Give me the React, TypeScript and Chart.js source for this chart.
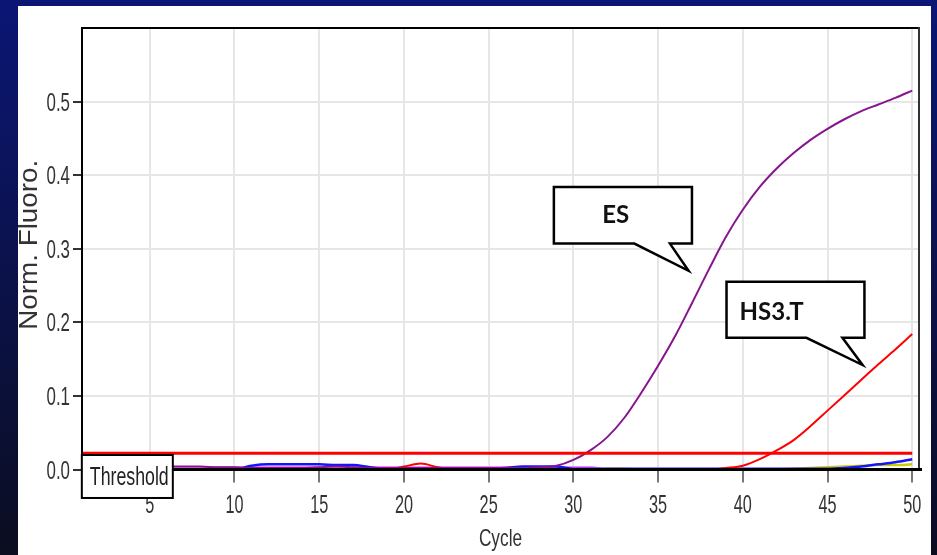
import React, { useEffect, useRef } from "react";
import { Chart, registerables } from "chart.js";
Chart.register(...registerables);

// ---------- data ----------
const cycles = [
  1, 2, 3, 4, 5, 6, 7, 8, 9, 10, 11, 12, 13, 14, 15, 16, 17, 18, 19, 20, 21, 22, 23, 24, 25,
  26, 27, 28, 29, 30, 31, 32, 33, 34, 35, 36, 37, 38, 39, 40, 41, 42, 43, 44, 45, 46, 47, 48, 49, 50,
];
const xTickValues = [5, 10, 15, 20, 25, 30, 35, 40, 45, 50];
const yTickValues = [0.0, 0.1, 0.2, 0.3, 0.4, 0.5];
const thresholdCycles = [1, 50];
const thresholdValue = 0.022;

const esValues = [
  0.003, 0.003, 0.004, 0.004, 0.003, 0.004, 0.004, 0.004, 0.003, 0.003,
  0.002, 0.002, 0.002, 0.002, 0.003, 0.004, 0.003, 0.002, 0.002, 0.002,
  0.002, 0.002, 0.002, 0.002, 0.002, 0.002, 0.002, 0.003, 0.005, 0.013,
  0.026, 0.044, 0.07, 0.104, 0.141, 0.181, 0.226, 0.272, 0.316, 0.353,
  0.384, 0.409, 0.43, 0.448, 0.463, 0.476, 0.487, 0.496, 0.505, 0.515,
];
const hs3tValues = [
  0, 0, 0, 0, 0, 0, 0, 0, 0, 0,
  0, 0, 0, 0, 0, 0, 0, 0, 0, 0.004,
  0.008, 0.003, 0, 0, 0, 0, 0, 0, 0, 0,
  0, 0, 0, 0, 0, 0, 0, 0, 0.002, 0.005,
  0.014, 0.026, 0.04, 0.059, 0.08, 0.101, 0.122, 0.143, 0.163, 0.184,
];
const blueValues = [
  0, 0, 0, 0, 0, 0, 0, 0, 0, 0,
  0.005, 0.007, 0.007, 0.007, 0.007, 0.006, 0.006, 0.003, 0.001, 0.001,
  0.001, 0.001, 0.001, 0.001, 0.001, 0.002, 0.004, 0.004, 0.004, 0.001,
  0.001, 0.001, 0.001, 0.001, 0.001, 0.001, 0.001, 0.001, 0.001, 0.001,
  0.001, 0.001, 0.001, 0.001, 0.001, 0.002, 0.004, 0.007, 0.01, 0.014,
];
const yellowValues = [
  0, 0, 0, 0, 0, 0, 0, 0, 0, 0,
  0, 0, 0, 0, 0, 0, 0, 0, 0, 0,
  0, 0, 0, 0, 0, 0, 0, 0, 0, 0,
  0, 0.001, 0.001, 0, 0, 0, 0, 0, 0, 0,
  0, 0, 0.001, 0.002, 0.003, 0.004, 0.005, 0.006, 0.006, 0.007,
];
const pinkValues = [
  0.003, 0.003, 0.003, 0.003, 0.003, 0.003, 0.003, 0.003, 0.003, 0.003,
  0.003, 0.003, 0.003, 0.003, 0.003, 0.003, 0.003, 0.003, 0.003, 0.003,
  0.003, 0.003, 0.003, 0.003, 0.003, 0.003, 0.003, 0.003, 0.003, 0.003,
  0.003, 0, 0, 0, 0, 0, 0, 0, 0, 0,
  0, 0, 0, 0, 0, 0, 0, 0, 0, 0,
];

// callouts (in data units: cycle, norm. fluoro.)
const esCallout = { text: "ES", left: 28.85, right: 37.0, top: 0.384, bottom: 0.307, tailA: 33.6, tailB: 35.7, tipX: 36.8, tipY: 0.27, textX: 31.7, textY: 0.335 };
const hsCallout = { text: "HS3.T", left: 39.04, right: 47.18, top: 0.255, bottom: 0.179, tailA: 43.76, tailB: 45.88, tipX: 47.07, tipY: 0.142, textX: 39.81, textY: 0.203 };
const thresholdLabel = { text: "Threshold", left: 0.99, right: 6.36, top: 0.0197, bottom: -0.0387, textX: 1.46, textY: -0.021 };

const FONT = "'Liberation Sans', Arial, sans-serif";
const BOLD_FONT = "Lato, 'Open Sans', sans-serif";

function scaledText(ctx: CanvasRenderingContext2D, text: string, x: number, y: number, size: number, sx: number, align: CanvasTextAlign, color = "#333", weight = "normal", family = FONT) {
  ctx.save();
  ctx.translate(x, y);
  ctx.scale(sx, 1);
  ctx.font = `${weight} ${size}px ${family}`;
  ctx.textAlign = align;
  ctx.textBaseline = "alphabetic";
  ctx.fillStyle = color;
  ctx.fillText(text, 0, 0);
  ctx.restore();
}

const toXY = (xs: number[], ys: number[]) => xs.map((x, i) => ({ x, y: ys[i] }));

const backgroundPlugin = {
  id: "bgPanel",
  beforeDraw(chart: any) {
    const { ctx, width, height } = chart;
    ctx.save();
    const g = ctx.createLinearGradient(0, 0, 0, height);
    g.addColorStop(0, "#0b1675");
    g.addColorStop(0.5, "#0b124a");
    g.addColorStop(1, "#0b0d20");
    ctx.fillStyle = g;
    ctx.fillRect(0, 0, width, height);
    ctx.fillStyle = "#ffffff";
    ctx.fillRect(18, 6, 913, height - 6);
    ctx.restore();
  },
};

function drawCallout(chart: any, c: any) {
  const { ctx } = chart;
  const xs = chart.scales.x;
  const ys = chart.scales.y;
  const L = xs.getPixelForValue(c.left);
  const R = xs.getPixelForValue(c.right);
  const T = ys.getPixelForValue(c.top);
  const B = ys.getPixelForValue(c.bottom);
  const a = xs.getPixelForValue(c.tailA);
  const b = xs.getPixelForValue(c.tailB);
  const tx = xs.getPixelForValue(c.tipX);
  const ty = ys.getPixelForValue(c.tipY);
  ctx.save();
  ctx.beginPath();
  ctx.moveTo(L, T);
  ctx.lineTo(R, T);
  ctx.lineTo(R, B);
  ctx.lineTo(b, B);
  ctx.lineTo(tx, ty);
  ctx.lineTo(a, B);
  ctx.lineTo(L, B);
  ctx.closePath();
  ctx.fillStyle = "#ffffff";
  ctx.fill();
  ctx.lineWidth = 2.5;
  ctx.strokeStyle = "#000";
  ctx.lineJoin = "miter";
  ctx.stroke();
  ctx.restore();
  scaledText(ctx, c.text, xs.getPixelForValue(c.textX), ys.getPixelForValue(c.textY), 24, 1, "left", "#111", "bold", BOLD_FONT);
}

const decorPlugin = {
  id: "decor",
  afterDraw(chart: any) {
    const { ctx, chartArea } = chart;
    const xs = chart.scales.x;
    const ys = chart.scales.y;
    const { left, right, top, bottom } = chartArea;
    ctx.save();
    ctx.strokeStyle = "#000";
    ctx.lineWidth = 2;
    ctx.beginPath();
    ctx.moveTo(left, top);
    ctx.lineTo(right, top);
    ctx.stroke();
    ctx.beginPath();
    ctx.moveTo(left, top - 1);
    ctx.lineTo(left, bottom);
    ctx.stroke();
    ctx.strokeStyle = "#333";
    ctx.beginPath();
    ctx.moveTo(right, top - 1);
    ctx.lineTo(right, bottom);
    ctx.stroke();
    ctx.strokeStyle = "#000";
    ctx.lineWidth = 3;
    ctx.beginPath();
    ctx.moveTo(left, bottom);
    ctx.lineTo(right + 3, bottom);
    ctx.stroke();
    ctx.restore();

    yTickValues.forEach((v) => {
      const py = ys.getPixelForValue(v);
      scaledText(ctx, v.toFixed(1), left - 12, py + 9, 26, 0.65, "right");
    });
    xTickValues.forEach((v) => {
      const px = xs.getPixelForValue(v);
      scaledText(ctx, String(v), px, bottom + 43, 25, 0.65, "center");
    });
    scaledText(ctx, "Cycle", (left + right) / 2, bottom + 76, 24, 0.72, "center");
    ctx.save();
    ctx.translate(37, (top + bottom) / 2 - 4);
    ctx.rotate(-Math.PI / 2);
    ctx.scale(1.07, 1);
    ctx.font = `26px ${FONT}`;
    ctx.textAlign = "center";
    ctx.textBaseline = "alphabetic";
    ctx.fillStyle = "#333";
    ctx.fillText("Norm. Fluoro.", 0, 0);
    ctx.restore();

    const tl = thresholdLabel;
    const L = xs.getPixelForValue(tl.left);
    const R = xs.getPixelForValue(tl.right);
    const T = ys.getPixelForValue(tl.top);
    const B = ys.getPixelForValue(tl.bottom);
    ctx.save();
    ctx.fillStyle = "#fff";
    ctx.fillRect(L, T, R - L, B - T);
    ctx.lineWidth = 2;
    ctx.strokeStyle = "#000";
    ctx.strokeRect(L, T, R - L, B - T);
    ctx.restore();
    scaledText(ctx, tl.text, xs.getPixelForValue(tl.textX), ys.getPixelForValue(tl.textY), 26.5, 0.67, "left", "#222");

    drawCallout(chart, esCallout);
    drawCallout(chart, hsCallout);
  },
};

export default function App() {
  const ref = useRef<HTMLCanvasElement | null>(null);
  useEffect(() => {
    if (!ref.current) return;
    const line = (label: string, data: any[], color: string, width: number) => ({
      label,
      data,
      borderColor: color,
      backgroundColor: color,
      borderWidth: width,
      pointRadius: 0,
      fill: false,
      cubicInterpolationMode: "monotone" as const,
    });
    const chart = new Chart(ref.current, {
      type: "line",
      data: {
        datasets: [
          line("Threshold", toXY(thresholdCycles, thresholdCycles.map(() => thresholdValue)), "#ff0000", 3),
          line("ES", toXY(cycles, esValues), "#86168f", 2),
          line("HS3.T", toXY(cycles, hs3tValues), "#ff0000", 2),
          line("Sample 3", toXY(cycles, blueValues), "#1414ff", 2.5),
          line("Sample 4", toXY(cycles, yellowValues), "#cccc00", 2.5),
          line("Sample 5", toXY(cycles, pinkValues), "#ff80ff", 2.5),
        ],
      },
      options: {
        responsive: false,
        animation: false,
        devicePixelRatio: 1,
        layout: { padding: { left: 18, right: 18, top: 28, bottom: 0 } },
        plugins: { legend: { display: false }, tooltip: { enabled: false }, title: { display: false } },
        scales: {
          x: {
            type: "linear",
            min: 1,
            max: 50.4,
            afterBuildTicks: (s: any) => {
              s.ticks = xTickValues.map((v) => ({ value: v }));
            },
            afterFit: (s: any) => {
              s.height = 85.5;
            },
            ticks: { display: false },
            border: { display: false },
            grid: { color: "#e6e6e6", lineWidth: 2, drawTicks: true, tickLength: 13, tickColor: "#777", tickWidth: 2 },
          },
          y: {
            type: "linear",
            min: 0,
            max: 0.6,
            afterBuildTicks: (s: any) => {
              s.ticks = yTickValues.map((v) => ({ value: v }));
            },
            afterFit: (s: any) => {
              s.width = 64;
            },
            ticks: { display: false },
            border: { display: false },
            grid: { color: "#e6e6e6", lineWidth: 2, drawTicks: true, tickLength: 9, tickColor: "#333", tickWidth: 2 },
          },
        },
      },
      plugins: [backgroundPlugin, decorPlugin],
    });
    return () => chart.destroy();
  }, []);
  return (
    <div style={{ position: "fixed", left: 0, top: 0, width: 937, height: 555 }}>
      <canvas ref={ref} width={937} height={555} style={{ display: "block", width: 937, height: 555 }} />
    </div>
  );
}
